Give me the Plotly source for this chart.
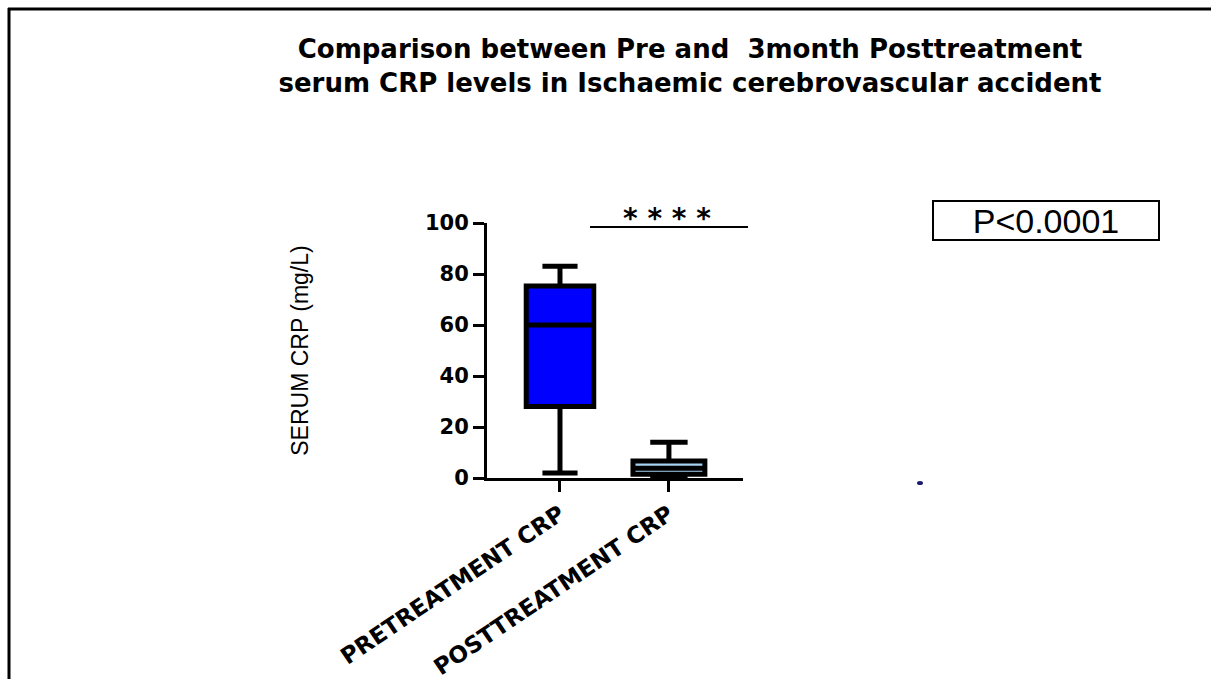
import plotly.graph_objects as go

categories = ["PRETREATMENT CRP", "POSTTREATMENT CRP"]
lower_whisker = [2.0, 0.3]
q1_vals = [28.0, 1.5]
median_vals = [60.0, 3.8]
q3_vals = [75.3, 6.7]
upper_whisker = [83.0, 14.0]
fill_colors = ["#0000ff", "#a6d2f2"]
box_widths = [0.62, 0.66]
y_ticks = [0, 20, 40, 60, 80, 100]
title_line1 = "Comparison between Pre and\u00a0 3month Posttreatment"
title_line2 = "serum CRP levels in Ischaemic cerebrovascular accident"
p_text = "P<0.0001"
sig_text = "* * * *"

fig = go.Figure()
for i, cat in enumerate(categories):
    fig.add_trace(go.Box(
        x=[cat],
        q1=[q1_vals[i]], median=[median_vals[i]], q3=[q3_vals[i]],
        lowerfence=[lower_whisker[i]], upperfence=[upper_whisker[i]],
        fillcolor=fill_colors[i],
        line=dict(color="black", width=5),
        whiskerwidth=0.52,
        width=box_widths[i],
        boxpoints=False,
        showlegend=False,
        hoverinfo="skip",
    ))

W, H = 1211, 679
L, R, T, B = 487, 743, 223, 478


def px_x(p):
    return (p - L) / (R - L)


def px_y(p):
    return (B - p) / (B - T)


fig.update_layout(
    width=W, height=H,
    margin=dict(l=L, r=W - R, t=T, b=H - B, autoexpand=False),
    paper_bgcolor="white", plot_bgcolor="white",
    title=dict(
        text=title_line1 + "<br>" + title_line2,
        x=690 / W, xanchor="center", xref="container",
        y=1 - 58 / H, yanchor="middle", yref="container",
        font=dict(family="DejaVu Sans", size=26, color="black", weight="bold"),
    ),
    xaxis=dict(
        range=[-0.67, 1.68],
        automargin=False,
        showline=True, linecolor="black", linewidth=3,
        ticks="outside", ticklen=11, tickwidth=3, tickcolor="black",
        tickangle=-34,
        tickfont=dict(family="DejaVu Sans", size=23, color="black", weight="bold"),
        showgrid=False, zeroline=False,
    ),
    yaxis=dict(
        range=[0, 100],
        automargin=False,
        tickvals=y_ticks,
        showline=True, linecolor="black", linewidth=3,
        ticks="outside", ticklen=11, tickwidth=3, tickcolor="black",
        tickfont=dict(family="DejaVu Sans", size=21, color="black", weight="bold"),
        showgrid=False, zeroline=False,
        title=dict(text="SERUM CRP (mg/L)", standoff=110,
                   font=dict(family="Liberation Sans", size=23, color="black")),
    ),
)

# significance bar and stars
fig.add_shape(type="line", xref="paper", yref="paper",
              x0=px_x(590), x1=px_x(748), y0=px_y(227), y1=px_y(227),
              line=dict(color="black", width=2))
fig.add_annotation(text=sig_text, xref="paper", yref="paper",
                   x=px_x(667), y=px_y(218), showarrow=False,
                   xanchor="center", yanchor="middle",
                   font=dict(family="DejaVu Sans", size=28, color="black", weight="bold"))

# p-value box
fig.add_annotation(text=p_text, xref="paper", yref="paper",
                   x=px_x(1046), y=px_y(220), showarrow=False,
                   xanchor="center", yanchor="middle",
                   width=222, height=35,
                   bordercolor="black", borderwidth=2, borderpad=1,
                   font=dict(family="Liberation Sans", size=34, color="black"))

# frame lines (left and top)
fig.add_shape(type="line", xref="paper", yref="paper",
              x0=px_x(9), x1=px_x(9), y0=px_y(8), y1=px_y(679),
              line=dict(color="black", width=3))
fig.add_shape(type="line", xref="paper", yref="paper",
              x0=px_x(8), x1=px_x(1211), y0=px_y(9), y1=px_y(9),
              line=dict(color="black", width=3))

# stray dot
fig.add_shape(type="circle", xref="paper", yref="paper",
              x0=px_x(917), x1=px_x(923), y0=px_y(485), y1=px_y(481),
              fillcolor="#1a1a70", line=dict(width=0))

fig.write_html("out.html", config={"displayModeBar": False},
               post_script="document.body.style.margin='0px';")
